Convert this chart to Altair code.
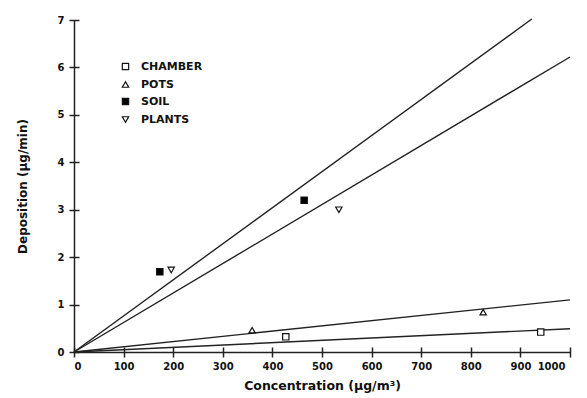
import altair as alt
import pandas as pd

series = ["CHAMBER", "POTS", "SOIL", "PLANTS"]
shapes = ["square", "triangle-up", "square", "triangle-down"]
fills = ["white", "white", "black", "white"]

# measured points
pt_series = ["CHAMBER", "CHAMBER", "POTS", "POTS", "SOIL", "SOIL", "PLANTS", "PLANTS"]
pt_conc = [427, 941, 359, 825, 173, 464, 196, 534]
pt_dep = [0.32, 0.42, 0.46, 0.84, 1.69, 3.20, 1.73, 3.00]

# fitted lines through origin: end points
ln_series = ["CHAMBER", "POTS", "SOIL", "PLANTS"]
ln_x_end = [1000, 1000, 923, 1000]
ln_y_end = [0.49, 1.10, 7.02, 6.22]

x_ticks = list(range(0, 1001, 100))
y_ticks = list(range(0, 8))

pts = pd.DataFrame({"series": pt_series, "conc": pt_conc, "dep": pt_dep})
rows = []
for s, xe, ye in zip(ln_series, ln_x_end, ln_y_end):
    rows.append({"series": s, "conc": 0, "dep": 0})
    rows.append({"series": s, "conc": xe, "dep": ye})
lines = pd.DataFrame(rows)

FONT = "DejaVu Sans"
xs = alt.Scale(domain=[0, 1000], nice=False)
ys = alt.Scale(domain=[0, 7], nice=False)

x_main = alt.X("conc:Q", scale=xs, title="Concentration (μg/m³)",
               axis=alt.Axis(values=x_ticks, format="d", ticks=False, labelPadding=9,
                             labelOffset={"expr": "datum.value == 1000 ? -5 : 0"},
                             titlePadding=8, grid=False, domainColor="#222",
                             domainWidth=1.5, labelFont=FONT, labelFontSize=10,
                             labelFontWeight="bold", labelColor="#111",
                             titleFont=FONT, titleFontSize=12.5, titleFontWeight="bold",
                             titleColor="#111", orient="bottom"))
y_main = alt.Y("dep:Q", scale=ys, title="Deposition (μg/min)",
               axis=alt.Axis(values=y_ticks, ticks=False, labelPadding=10,
                             titlePadding=28, grid=False, domainColor="#222",
                             domainWidth=1.5, labelFont=FONT, labelFontSize=10,
                             labelFontWeight="bold", labelColor="#111",
                             titleFont=FONT, titleFontSize=12, titleFontWeight="bold",
                             titleColor="#111", orient="left"))

line_layer = alt.Chart(lines).mark_line(color="#222", strokeWidth=1.4).encode(
    x=x_main, y=y_main, detail="series:N")

legend = alt.Legend(title=None, orient="none", legendX=46, legendY=41,
                    labelFont=FONT, labelFontSize=11, labelFontWeight="bold",
                    labelColor="#111", symbolSize=40, symbolStrokeColor="#111",
                    symbolStrokeWidth=1.2, rowPadding=5, labelOffset=10)

x_tick = alt.X("conc:Q", scale=xs, axis=alt.Axis(values=x_ticks, labels=False, domain=False,
                                                 tickSize=10, offset=-5, grid=False,
                                                 tickColor="#222", tickWidth=1.5,
                                                 title=None, orient="bottom"))
y_tick = alt.Y("dep:Q", scale=ys, axis=alt.Axis(values=y_ticks, labels=False, domain=False,
                                                tickSize=10, offset=-5, grid=False,
                                                tickColor="#222", tickWidth=1.5,
                                                title=None, orient="left"))

pt_layer = alt.Chart(pts).mark_point(filled=False, size=40, strokeWidth=1.2, opacity=1).encode(
    x=x_tick, y=y_tick,
    shape=alt.Shape("series:N", scale=alt.Scale(domain=series, range=shapes), legend=legend),
    fill=alt.Fill("series:N", scale=alt.Scale(domain=series, range=fills), legend=legend),
    stroke=alt.Stroke("series:N", scale=alt.Scale(domain=series, range=["#111"] * 4), legend=legend),
)

chart = alt.layer(line_layer, pt_layer).resolve_axis(x="independent", y="independent").resolve_scale(
    x="shared", y="shared").properties(
    width=496, height=332,
    autosize=alt.AutoSizeParams(type="none"),
    padding={"left": 66, "top": 12, "right": 9, "bottom": 46},
    background="white",
).configure_view(stroke=None)

chart.save("out.html", embed_options={"renderer": "svg", "actions": False})
